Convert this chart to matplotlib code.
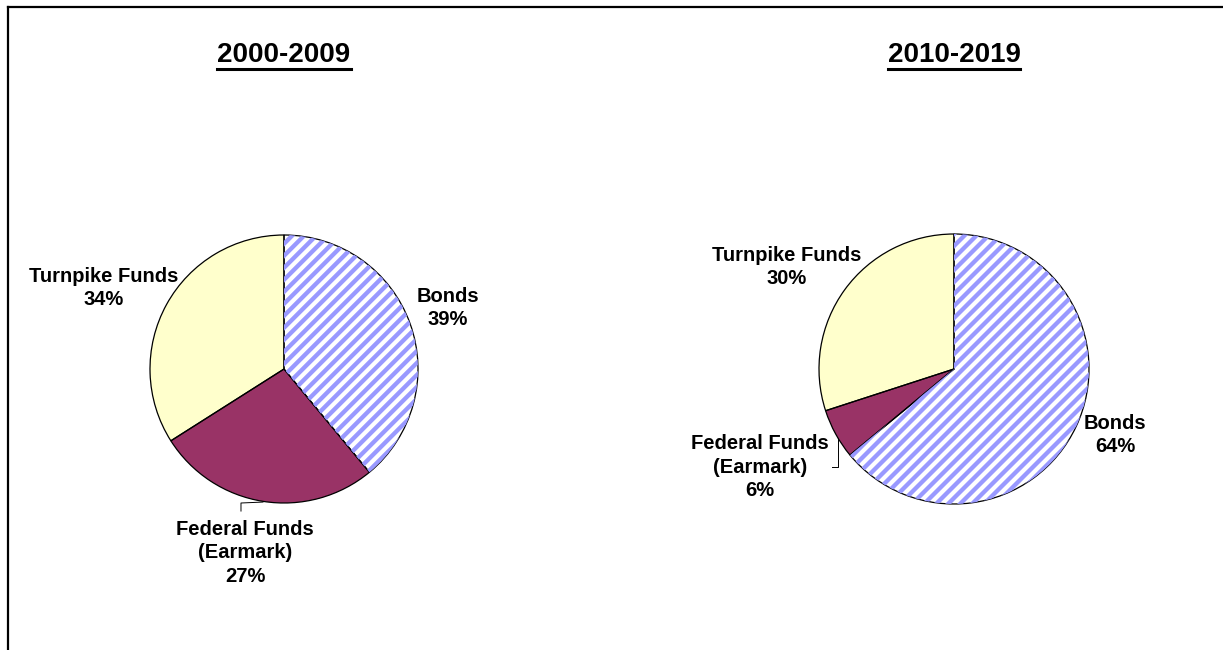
import numpy as np
import matplotlib.pyplot as plt
from matplotlib.lines import Line2D

plt.rcParams['font.family'] = ['Liberation Sans', 'DejaVu Sans']

periods = ["2000-2009", "2010-2019"]
sources = ["Bonds", "Federal Funds\n(Earmark)", "Turnpike Funds"]
shares_2000s = [39, 27, 34]
shares_2010s = [64, 6, 30]

fill_colors = ["white", "#993366", "#ffffcc"]
striped = [True, False, False]
stripe_color = "#9999ff"
stripe_gap_px = 12  # horizontal distance between stripes

W, H = 1223, 650
fig = plt.figure(figsize=(W / 100, H / 100), dpi=100)

# pie centre / radius in pixels, label spots and leader lines in pie units
layouts = [
    dict(centre=(284, 369), radius=134,
         label_xy=[(1.224, 0.455), (-0.291, -1.373), (-1.343, 0.604)],
         leader=[(-0.321, -1.06), (-0.321, -1.0), (-0.157, -0.993)]),
    dict(centre=(954, 369), radius=135,
         label_xy=[(1.193, -0.489), (-1.437, -0.726), (-1.237, 0.756)],
         leader=[(-0.904, -0.726), (-0.859, -0.726), (-0.859, -0.511)]),
]

title_texts = []
for period, shares, lay in zip(periods, [shares_2000s, shares_2010s], layouts):
    cx, cy = lay["centre"]
    r = lay["radius"]
    ax = fig.add_axes([(cx - r) / W, 1 - (cy + r) / H, 2 * r / W, 2 * r / H])

    wedges, _ = ax.pie(shares, startangle=90, counterclock=False,
                       colors=fill_colors, wedgeprops=dict(linewidth=0))

    # diagonal blue stripes clipped to the striped wedges
    step = stripe_gap_px / r
    for w, s in zip(wedges, striped):
        if not s:
            continue
        for c in np.arange(-2.2, 2.2, step):
            ln, = ax.plot([-1.1, 1.1], [-1.1 + c, 1.1 + c], color=stripe_color,
                          lw=3.1, solid_capstyle="butt")
            ln.set_clip_path(w)

    # black outlines on top
    ax.pie(shares, startangle=90, counterclock=False,
           wedgeprops=dict(linewidth=0.9, edgecolor="black", fill=False))

    ax.set_xlim(-1, 1)
    ax.set_ylim(-1, 1)
    ax.set_aspect("equal")
    ax.set_axis_off()

    for name, share, (lx, ly) in zip(sources, shares, lay["label_xy"]):
        ax.text(lx, ly, f"{name}\n{share}%", ha="center", va="center",
                fontsize=14.5, fontweight="bold", linespacing=1.32,
                clip_on=False)

    xs, ys = zip(*lay["leader"])
    ax.plot(xs, ys, color="black", lw=0.7, clip_on=False)

    t = fig.text(cx / W, 1 - 55 / H, period, ha="center", va="center",
                 fontsize=20, fontweight="bold")
    title_texts.append(t)

# underline the period titles
fig.canvas.draw()
renderer = fig.canvas.get_renderer()
for t in title_texts:
    bb = t.get_window_extent(renderer)
    y = 1 - 69 / H
    fig.add_artist(Line2D([bb.x0 / W, bb.x1 / W], [y, y], color="black",
                          lw=2.2, transform=fig.transFigure))

# frame: left and top edges
fig.add_artist(Line2D([8 / W, 8 / W], [0, 1 - 7 / H], color="black", lw=1.6,
                      transform=fig.transFigure))
fig.add_artist(Line2D([8 / W, 1], [1 - 7 / H, 1 - 7 / H], color="black", lw=1.6,
                      transform=fig.transFigure))

fig.savefig("out.png", dpi=100)
